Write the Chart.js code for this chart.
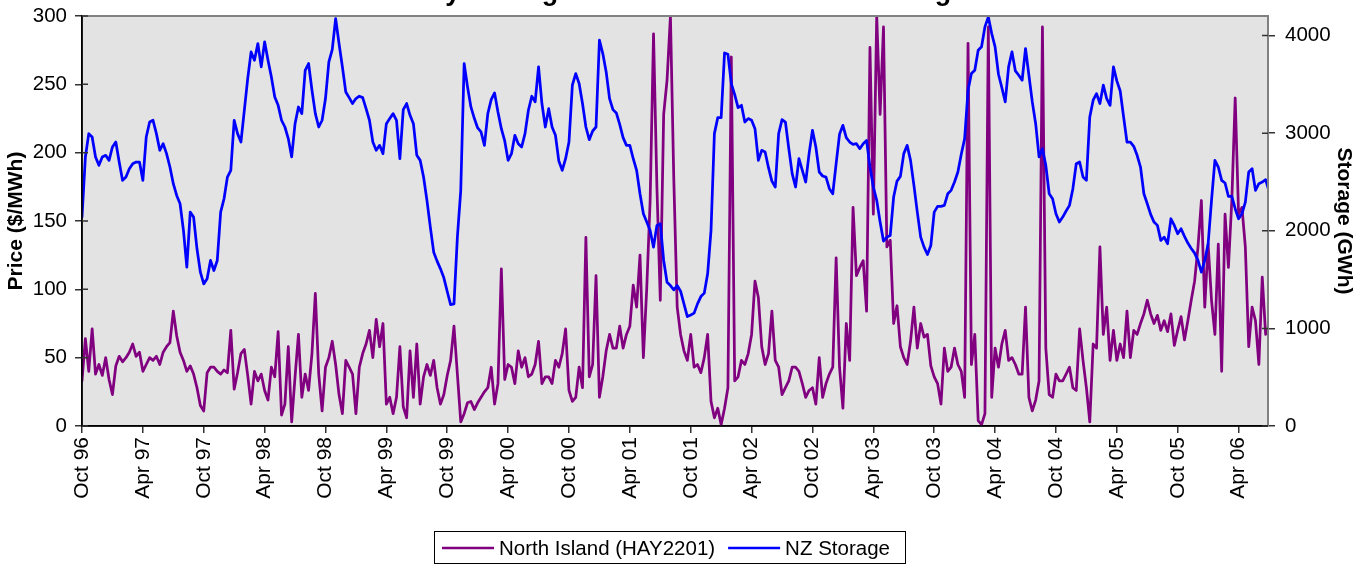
<!DOCTYPE html>
<html><head><meta charset="utf-8">
<script src="https://cdn.jsdelivr.net/npm/chart.js@4.4.1/dist/chart.umd.min.js"></script>
<style>html,body{margin:0;padding:0;background:#fff;overflow:hidden}canvas{display:block}</style>
</head><body>
<canvas id="c" width="1371" height="564"></canvas>
<script>
// ---- data (sampled every third of a month, starting Oct 1996) ----
const chartTitle = 'Daily Average Wholesale Prices and Storage';
const seriesNames = ['North Island (HAY2201)', 'NZ Storage'];
const xTickLabels = ['Oct 96','Apr 97','Oct 97','Apr 98','Oct 98','Apr 99','Oct 99','Apr 00','Oct 00','Apr 01',
                     'Oct 01','Apr 02','Oct 02','Apr 03','Oct 03','Apr 04','Oct 04','Apr 05','Oct 05','Apr 06'];
const priceTicks = [0, 50, 100, 150, 200, 250, 300];
const storageTicks = [0, 1000, 2000, 3000, 4000];
const samplesPerMonth = 3;

const priceHAY2201 = [
 33,64,40,71,38,45,37,50,34,23, 44,51,47,50,54,60,51,54,40,45,
 50,48,51,45,54,58,61,84,66,54, 48,40,44,38,28,15,11,39,43,43,
 40,38,41,39,70,27,39,53,56,37, 16,40,33,38,26,19,43,36,69,8,
 16,58,3,36,67,21,38,26,53,97,
 38,11,43,50,62,45,23,9,48,43, 38,9,43,53,60,70,50,78,58,75,
 16,21,9,21,58,14,6,55,21,60, 16,36,45,37,48,28,16,23,37,48,
 73,38,3,9,17,18,12,17,21,25, 28,43,16,31,115,34,45,43,31,55,
 43,50,36,38,45,62,31,36,36,31,48,
 43,53,71,26,18,21,43,28,138,36, 45,110,21,36,55,67,57,57,73,57,
 67,73,103,87,125,50,101,165,287,175, 92,228,253,300,180,87,67,55,48,67,
 43,45,39,50,67,18,6,13,1,13, 28,270,33,36,48,45,53,67,106,94,
 58,45,53,84,48,43,23,28,33,43,
 43,40,31,21,26,28,16,50,21,31, 38,43,123,43,13,75,48,160,110,116,
 121,84,277,155,300,228,292,131,136,75, 88,58,50,45,62,87,57,75,65,67,
 44,36,31,16,57,40,43,57,45,40, 21,280,45,67,4,1,9,292,21,57,
 43,60,70,48,50,45,38,38,87,21,11,
 19,33,292,57,23,21,38,33,33,38, 43,28,26,71,48,28,3,60,57,131,
 67,87,48,70,48,60,50,84,50,70, 67,75,82,92,82,75,81,70,77,69,
 82,59,70,80,63,77,92,106,131,165, 87,133,92,67,133,40,155,116,165,240,
 155,160,131,58,87,77,45,109,67,72
];

const nzStorage = [
 2140,2756,2995,2961,2756,2670,2756,2773,2721,2858, 2909,2704,2516,2550,2636,2687,2704,2704,2516,2961,
 3114,3132,2995,2824,2892,2790,2653,2482,2362,2277, 2003,1627,2191,2140,1815,1576,1456,1508,1696,1593,
 1696,2191,2328,2550,2619,3132,2995,2909,3234,3559, 3832,3747,3918,3679,3935,3747,3576,3371,3285,3132,
 3063,2944,2756,3097,3268,3200,3644,3713,3439,3200,
 3063,3132,3354,3730,3856,4174,3918,3679,3422,3364, 3303,3354,3378,3364,3251,3132,2909,2824,2875,2790,
 3097,3149,3200,3132,2738,3241,3303,3183,3097,2773, 2721,2550,2311,2038,1781,1689,1610,1518,1378,1244,
 1251,1935,2414,3713,3474,3268,3152,3053,3012,2875, 3200,3344,3412,3217,3046,2920,2721,2790,2978,2892,
 2858,2995,3234,3378,3320,3679,3303,3063,3251,3063,2978,
 2714,2619,2738,2909,3491,3610,3508,3303,3063,2933, 3022,3063,3952,3815,3627,3354,3241,3207,3090,2954,
 2875,2875,2738,2619,2379,2174,2089,2003,1832,2055, 2072,1696,1473,1439,1395,1439,1381,1251,1121,1138,
 1156,1251,1326,1361,1559,2003,2995,3159,3159,3822, 3808,3508,3395,3262,3285,3114,3149,3132,3046,2721,
 2824,2807,2646,2509,2448,2995,3138,3114,2841,2585,
 2448,2738,2619,2499,2790,3029,2858,2602,2561,2550, 2431,2379,2687,2988,3080,2954,2909,2885,2892,2841,
 2892,2926,2653,2448,2311,2089,1894,1935,1952,2345, 2509,2557,2790,2875,2721,2465,2191,1935,1832,1757,
 1850,2191,2250,2250,2260,2379,2414,2499,2602,2783, 2944,3439,3610,3644,3850,3884,4089,4191,4021,3884,
 3603,3467,3320,3679,3832,3637,3593,3542,3867,3593,3320,
 3097,2756,2841,2670,2379,2328,2174,2089,2140,2202, 2260,2431,2687,2704,2550,2516,3166,3337,3405,3303,
 3491,3354,3285,3679,3535,3432,3166,2909,2909,2865, 2773,2653,2379,2277,2168,2089,2055,1901,1935,1867,
 2123,2055,1969,2021,1942,1874,1819,1771,1696,1576, 1696,1867,2311,2721,2653,2516,2489,2352,2352,2226,
 2123,2174,2294,2602,2636,2414,2482,2499,2523,2407
];

// ---- chart ----
const FONT = "'Liberation Sans', Arial, Helvetica, sans-serif";
Chart.defaults.font.family = FONT;
Chart.defaults.color = '#000';

const toPoints = arr => arr.map((v, i) => ({x: i / samplesPerMonth, y: v}));

const decor = {
  id: 'decor',
  beforeDraw(chart) {
    const {ctx, chartArea: a} = chart;
    ctx.save();
    ctx.fillStyle = '#E3E3E3';
    ctx.fillRect(a.left, a.top, a.right - a.left, a.bottom - a.top);
    ctx.restore();
  },
  afterDraw(chart) {
    const {ctx, chartArea: a} = chart;
    ctx.save();
    // top and right frame
    ctx.strokeStyle = '#808080';
    ctx.lineWidth = 2;
    ctx.beginPath();
    ctx.moveTo(a.left, a.top); ctx.lineTo(a.right, a.top); ctx.lineTo(a.right, a.bottom);
    ctx.stroke();
    // left / bottom axis lines
    ctx.strokeStyle = '#000';
    ctx.lineWidth = 1.5;
    ctx.beginPath();
    ctx.moveTo(a.left, a.top); ctx.lineTo(a.left, a.bottom); ctx.lineTo(a.right, a.bottom);
    ctx.stroke();
    // inner halves of the cross tick marks
    ctx.strokeStyle = '#333';
    ctx.lineWidth = 1.5;
    const yL = chart.scales.y, yR = chart.scales.y1;
    ctx.beginPath();
    yL.ticks.forEach(t => { const p = yL.getPixelForValue(t.value); ctx.moveTo(a.left, p); ctx.lineTo(a.left + 6, p); });
    yR.ticks.forEach(t => { const p = yR.getPixelForValue(t.value); ctx.moveTo(a.right - 6, p); ctx.lineTo(a.right, p); });
    ctx.stroke();
    // title (mostly above the visible page)
    ctx.fillStyle = '#000';
    ctx.font = 'bold 27px ' + FONT;
    ctx.textAlign = 'center';
    ctx.textBaseline = 'alphabetic';
    ctx.fillText(chartTitle, 681, 0);
    // legend, built from the datasets
    const ds = chart.data.datasets;
    ctx.font = '20.5px ' + FONT;
    const sample = 52, gapText = 5, gapItem = 13, padL = 8, padR = 15;
    const widths = ds.map(d => ctx.measureText(d.label).width);
    let total = padL + padR;
    widths.forEach((w, i) => { total += sample + gapText + w + (i < ds.length - 1 ? gapItem : 0); });
    const boxLeft = Math.round(669 - total / 2);
    const cy = 548;
    ctx.strokeStyle = '#000';
    ctx.lineWidth = 1;
    ctx.strokeRect(boxLeft + 0.5, 531.5, Math.round(total), 32);
    let x = boxLeft + padL;
    ctx.textAlign = 'left';
    ctx.textBaseline = 'middle';
    ds.forEach((d, i) => {
      ctx.strokeStyle = d.borderColor;
      ctx.lineWidth = 2.5;
      ctx.beginPath(); ctx.moveTo(x, cy); ctx.lineTo(x + sample, cy); ctx.stroke();
      x += sample + gapText;
      ctx.fillStyle = '#000';
      ctx.fillText(d.label, x, cy + 1);
      x += widths[i] + gapItem;
    });
    ctx.restore();
  }
};

new Chart(document.getElementById('c'), {
  type: 'line',
  data: {
    datasets: [
      { label: seriesNames[0], data: toPoints(priceHAY2201), yAxisID: 'y', order: 1,
        borderColor: '#800080', backgroundColor: '#800080', borderWidth: 2.75 },
      { label: seriesNames[1], data: toPoints(nzStorage), yAxisID: 'y1', order: 0,
        borderColor: '#0000FF', backgroundColor: '#0000FF', borderWidth: 2.75 }
    ]
  },
  options: {
    responsive: false,
    devicePixelRatio: 1,
    animation: false,
    events: [],
    layout: { padding: { top: 16, left: 0, right: 0, bottom: 0 } },
    elements: { point: { radius: 0 }, line: { tension: 0, borderJoinStyle: 'round', borderCapStyle: 'round' } },
    plugins: {
      title: { display: false },
      tooltip: { enabled: false },
      legend: { display: false }
    },
    scales: {
      x: {
        type: 'linear', min: 0, max: 116.9,
        afterBuildTicks: s => { s.ticks = xTickLabels.map((_, i) => ({value: i * 6})); },
        afterFit: s => { s.height = 138; s.paddingLeft = 0; s.paddingRight = 0; },
        ticks: { autoSkip: false, minRotation: 90, maxRotation: 90, padding: 4, font: { size: 21 },
                 callback: (v, i) => xTickLabels[i] },
        grid: { drawOnChartArea: false, drawTicks: true, tickLength: 7, color: '#333', lineWidth: 1.5 },
        border: { display: true, color: '#000', width: 1.5 }
      },
      y: {
        position: 'left', min: 0, max: 300,
        afterBuildTicks: s => { s.ticks = priceTicks.map(v => ({value: v})); },
        afterFit: s => { s.width = 82; s.paddingTop = 0; s.paddingBottom = 0; },
        ticks: { padding: 8, font: { size: 20.5 }, callback: v => String(v) },
        grid: { drawOnChartArea: false, drawTicks: true, tickLength: 7, color: '#333', lineWidth: 1.5 },
        border: { display: true, color: '#000', width: 1.5 },
        title: { display: true, text: 'Price ($/MWh)', font: { size: 21, weight: 'bold' }, padding: { top: 4, bottom: 0 } }
      },
      y1: {
        position: 'right', min: 0, max: 4200,
        afterBuildTicks: s => { s.ticks = storageTicks.map(v => ({value: v})); },
        afterFit: s => { s.width = 103; s.paddingTop = 0; s.paddingBottom = 0; },
        ticks: { padding: 10, font: { size: 20.5 }, callback: v => String(v) },
        grid: { drawOnChartArea: false, drawTicks: true, tickLength: 7, color: '#333', lineWidth: 1.5 },
        border: { display: true, color: '#808080', width: 2 },
        title: { display: true, text: 'Storage (GWh)', font: { size: 21, weight: 'bold' }, padding: { top: 15, bottom: 0 } }
      }
    }
  },
  plugins: [decor]
});
</script>
</body></html>
